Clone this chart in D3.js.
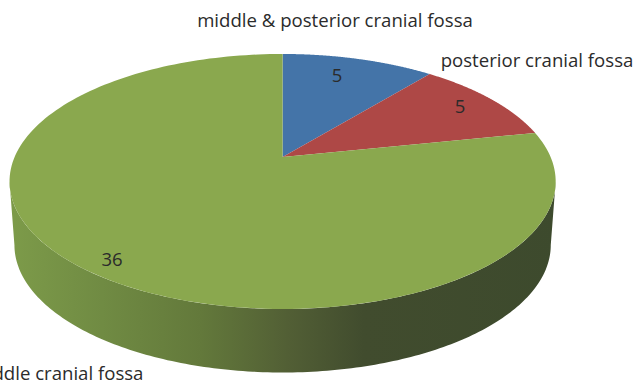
<!DOCTYPE html>
<html>
<head>
<meta charset="utf-8">
<script src="https://cdn.jsdelivr.net/npm/d3@7"></script>
<style>
  html, body { margin: 0; padding: 0; background: #fff; overflow: hidden; }
  text { font-family: "Open Sans", "Noto Sans", sans-serif; fill: #2b2b2b; }
</style>
</head>
<body>
<script>
// Tumour location counts
const categories = ["middle & posterior cranial fossa", "posterior cranial fossa", "middle cranial fossa"];
const values = [5, 5, 36];
const colors = ["#4474a8", "#ae4846", "#8aa84e"];
const wallStops = [
  [0, "#7c9a49"], [0.16, "#708b43"], [0.34, "#63793b"],
  [0.5, "#525f35"], [0.64, "#414c2e"], [1, "#3d4a2d"]
];

const width = 635, height = 386;
const svg = d3.select("body").append("svg").attr("width", width).attr("height", height);

// Tilted disc: a perspective projection of the unit circle
const cx = 282.6, cy = 157, A = 268, B = 122.8, k = 0.192;
const project = (a, scale = 1, dy = 0) => {
  const u = Math.sin(a), v = Math.cos(a), w = 1 + k * v;
  return [cx + scale * A * u / w, cy - B * v / w + dy];
};
const rimLine = d3.line();
const sample = (a0, a1, scale, dy) =>
  d3.range(0, 181).map(i => project(a0 + (a1 - a0) * i / 180, scale, dy));

const slices = d3.pie().value(d => d).sort(null)(values);

// Side wall: visible between the disc's left and right silhouette points
const wallScale = 0.982, wallDrop = 63.5;
const silhouette = Math.acos(-k);
const grad = svg.append("defs").append("linearGradient")
  .attr("id", "wall").attr("gradientUnits", "userSpaceOnUse")
  .attr("x1", cx - A).attr("x2", cx + A + 10).attr("y1", 0).attr("y2", 0);
wallStops.forEach(([o, c]) => grad.append("stop").attr("offset", o).attr("stop-color", c));

const upper = sample(silhouette, 2 * Math.PI - silhouette, 1, 0);
const lower = sample(2 * Math.PI - silhouette, silhouette, wallScale, wallDrop);
svg.append("path").attr("d", rimLine(upper.concat(lower)) + "Z").attr("fill", "url(#wall)");

// Top face
svg.selectAll("path.slice").data(slices).join("path")
  .attr("class", "slice")
  .attr("fill", (d, i) => colors[i])
  .attr("d", d => rimLine([[cx, cy], ...sample(d.startAngle, d.endAngle, 1, 0)]) + "Z");

// Category labels
const labelPos = [[335, 27], [537, 67], [57, 380]];
svg.selectAll("text.cat").data(categories).join("text")
  .attr("class", "cat")
  .attr("x", (d, i) => labelPos[i][0])
  .attr("y", (d, i) => labelPos[i][1])
  .attr("text-anchor", "middle")
  .attr("font-size", 18.6)
  .text(d => d);

// Value labels
const valuePos = [[337, 82], [460, 113], [112, 266]];
svg.selectAll("text.val").data(values).join("text")
  .attr("class", "val")
  .attr("x", (d, i) => valuePos[i][0])
  .attr("y", (d, i) => valuePos[i][1])
  .attr("text-anchor", "middle")
  .attr("font-size", 18.5)
  .text(d => d);
</script>
</body>
</html>
